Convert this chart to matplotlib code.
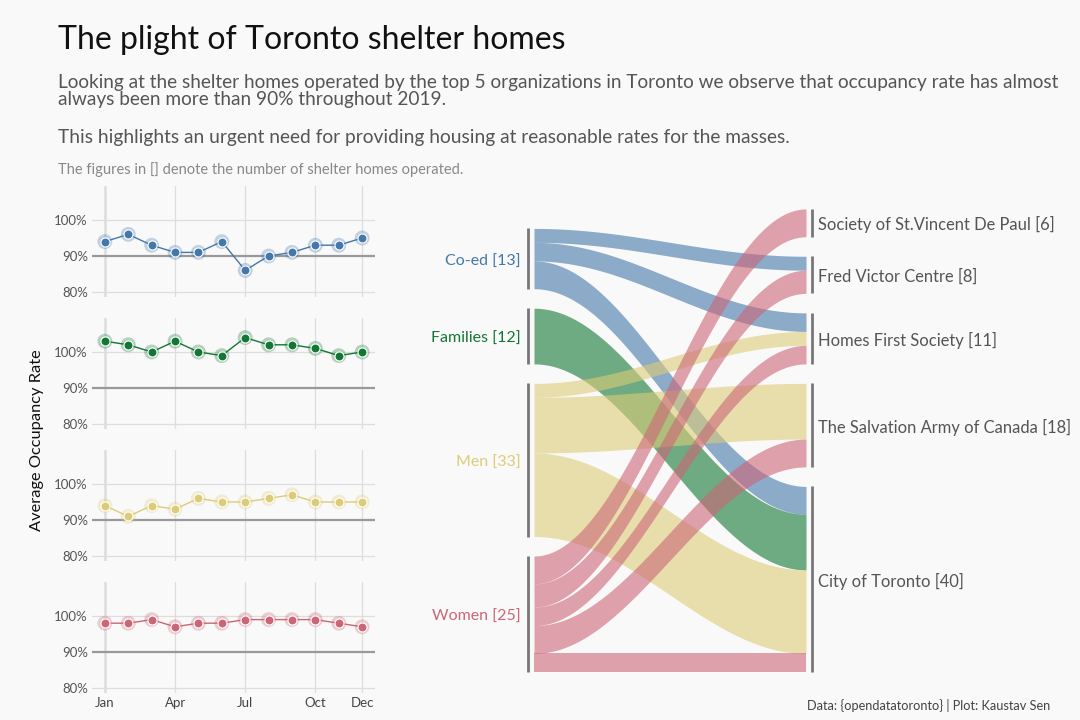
import numpy as np
import matplotlib
matplotlib.use("Agg")
import matplotlib.pyplot as plt

plt.rcParams['font.family'] = ['Lato', 'DejaVu Sans']

# ---- data ----
months = ['Jan', 'Feb', 'Mar', 'Apr', 'May', 'Jun', 'Jul', 'Aug', 'Sep', 'Oct', 'Nov', 'Dec']
month_ticks = ['Jan', 'Apr', 'Jul', 'Oct', 'Dec']
groups = ['Co-ed', 'Families', 'Men', 'Women']
group_colors = ['#4477AA', '#117733', '#DDCC77', '#CC6677']

occ_coed = [94, 96, 93, 91, 91, 94, 86, 90, 91, 93, 93, 95]
occ_families = [103, 102, 100, 103, 100, 99, 104, 102, 102, 101, 99, 100]
occ_men = [94, 91, 94, 93, 96, 95, 95, 96, 97, 95, 95, 95]
occ_women = [98, 98, 99, 97, 98, 98, 99, 99, 99, 99, 98, 97]
occupancy = [occ_coed, occ_families, occ_men, occ_women]

orgs = ['Society of St.Vincent De Paul', 'Fred Victor Centre', 'Homes First Society',
        'The Salvation Army of Canada', 'City of Toronto']
# shelter homes: rows = groups, cols = orgs
shelter_counts = [
    [0, 3, 4, 0, 6],
    [0, 0, 0, 0, 12],
    [0, 0, 3, 12, 18],
    [6, 5, 4, 6, 4],
]

W, H = 1080, 720
BG = '#F9F9F9'
fig = plt.figure(figsize=(W / 100, H / 100), dpi=100, facecolor=BG)


def px_axes(x0, y0, x1, y1):
    return fig.add_axes([x0 / W, 1 - y1 / H, (x1 - x0) / W, (y1 - y0) / H])


# ---- header ----
fig.text(58 / W, 1 - 40 / H, 'The plight of Toronto shelter homes', fontsize=23,
         color='#111111', va='center', ha='left')
fig.text(58 / W, 1 - 91 / H,
         'Looking at the shelter homes operated by the top 5 organizations in Toronto we observe that occupancy rate has almost\n'
         'always been more than 90% throughout 2019.',
         fontsize=13.65, color='#555555', va='center', ha='left', linespacing=1.0)
fig.text(58 / W, 1 - 138 / H,
         'This highlights an urgent need for providing housing at reasonable rates for the masses.',
         fontsize=13.8, color='#555555', va='center', ha='left')
fig.text(58 / W, 1 - 170 / H, 'The figures in [] denote the number of shelter homes operated.',
         fontsize=10.5, color='#888888', va='center', ha='left')
fig.text(1050 / W, 1 - 705 / H, 'Data: {opendatatoronto} | Plot: Kaustav Sen',
         fontsize=9.2, color='#444444', va='center', ha='right')

# ---- small multiples ----
x = np.arange(len(months))
p80 = [292, 424, 556, 688]
for k, (vals, col) in enumerate(zip(occupancy, group_colors)):
    top = p80[k] - 29.4 * 3.6
    bot = p80[k] + 1.4 * 3.6
    ax = px_axes(92, top, 375, bot)
    ax.set_facecolor(BG)
    ax.set_xlim(-0.55, 11.55)
    ax.set_ylim(78.6, 109.4)
    for s in ax.spines.values():
        s.set_visible(False)
    for yv in [80, 100]:
        ax.axhline(yv, color='#DDDDDD', lw=0.9, zorder=0)
    for xv in [months.index(m) for m in month_ticks]:
        ax.axvline(xv, color='#DDDDDD', lw=1.8 if xv == 0 else 0.9, zorder=0)
    ax.axhline(90, color='#999999', lw=1.6, zorder=1)
    ax.plot(x, vals, color=col, lw=1.0, zorder=2)
    ax.scatter(x, vals, s=115, facecolor=col, alpha=0.3, edgecolor='none', zorder=3)
    ax.scatter(x, vals, s=42, color=col, edgecolor='white', linewidth=0.8, zorder=4)
    ax.set_yticks([80, 90, 100])
    ax.set_yticklabels(['80%', '90%', '100%'], fontsize=9.5, color='#555555')
    ax.set_xticks([months.index(m) for m in month_ticks])
    if k == 3:
        ax.set_xticklabels(month_ticks, fontsize=9.5, color='#444444')
    else:
        ax.set_xticklabels([])
    ax.tick_params(length=0, pad=3)

fig.text(37 / W, 1 - 440 / H, 'Average Occupancy Rate', rotation=90, fontsize=11.8,
         color='#111111', va='center', ha='center')

# ---- alluvial ----
counts = np.array(shelter_counts)
group_tot = counts.sum(axis=1)
org_tot = counts.sum(axis=0)
gap = 4.2
unit = 4.64
y_base = 672

ax = px_axes(400, 190, 1080, 700)
ax.set_facecolor(BG)
ax.axis('off')
ax.set_xlim(1 - 131 / 278, 1 + 549 / 278)
ax.set_ylim(-(700 - y_base) / unit, (y_base - 190) / unit)


def stack_tops(sizes):
    tops = []
    y = sizes.sum() + gap * (len(sizes) - 1)
    for s in sizes:
        tops.append(y)
        y -= s + gap
    return tops


left_top = stack_tops(group_tot)
right_top = stack_tops(org_tot)

left_span = {}
for i in range(len(groups)):
    cur = left_top[i]
    for j in range(len(orgs)):
        f = counts[i, j]
        if f:
            left_span[(i, j)] = (cur - f, cur)
            cur -= f
right_span = {}
for j in range(len(orgs)):
    cur = right_top[j]
    for i in range(len(groups)):
        f = counts[i, j]
        if f:
            right_span[(i, j)] = (cur - f, cur)
            cur -= f

x0, x1 = 1 + 3 / 278, 2 - 3 / 278
xs = np.linspace(x0, x1, 200)
t = (xs - x0) / (x1 - x0)
s = (1 - np.cos(np.pi * t)) / 2
for i in range(len(groups)):
    for j in range(len(orgs)):
        if (i, j) not in left_span:
            continue
        la, lb = left_span[(i, j)]
        ra, rb = right_span[(i, j)]
        ax.fill_between(xs, la + (ra - la) * s, lb + (rb - lb) * s,
                        color=group_colors[i], alpha=0.6, lw=0)

lx, rx = 1 - 3 / 278, 2 + 3 / 278
for i, g in enumerate(groups):
    ax.plot([lx, lx], [left_top[i] - group_tot[i], left_top[i]], color='#777777', lw=2,
            solid_capstyle='butt')
    ax.text(1 - 10 / 278, left_top[i] - group_tot[i] / 2 - 0.6, f'{g} [{group_tot[i]}]',
            color=group_colors[i], fontsize=11.5, ha='right', va='center')
for j, o in enumerate(orgs):
    ax.plot([rx, rx], [right_top[j] - org_tot[j], right_top[j]], color='#777777', lw=2,
            solid_capstyle='butt')
    ax.text(2 + 9 / 278, right_top[j] - org_tot[j] / 2 - 0.45, f'{o} [{org_tot[j]}]',
            color='#555555', fontsize=11.9, ha='left', va='center')

fig.savefig('out.png', dpi=100, facecolor=BG)
